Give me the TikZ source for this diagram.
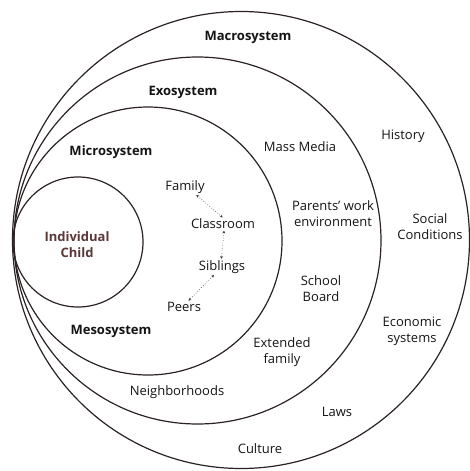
\documentclass[tikz,border=0pt]{standalone}
\usepackage{fontspec}
\setmainfont{Open Sans}
\usetikzlibrary{arrows.meta}
\definecolor{ring}{HTML}{2B2222}
\definecolor{ink}{HTML}{141414}
\definecolor{childcol}{HTML}{5A3838}
\begin{document}
\begin{tikzpicture}[x=1pt,y=-1pt,
  ringline/.style={draw=ring,line width=1.2pt},
  lbl/.style={text=ink,font=\fontsize{13}{16}\selectfont,align=center,inner sep=1pt},
  title/.style={lbl,font=\fontsize{13}{16}\selectfont\bfseries},
  link/.style={draw=gray!40!black,line width=0.6pt,dotted,{Stealth[length=2.8pt,width=2.8pt]}-{Stealth[length=2.8pt,width=2.8pt]},shorten <=0.5pt,shorten >=0.5pt}]
\useasboundingbox (0,0) rectangle (469,471);
% nested system rings, all touching on the left
\draw[ringline] (241,240) circle[radius=228.5pt];
\draw[ringline] (197.5,240.5) circle[radius=183.5pt];
\draw[ringline] (148,241) circle[radius=134pt];
\draw[ringline] (78,242) circle[radius=65pt];
% system names
\node[title] (macro) at (248,37) {Macrosystem};
\node[title] (exo) at (183,92) {Exosystem};
\node[title] (micro) at (111,152) {Microsystem};
\node[title] (meso) at (111,331) {Mesosystem};
\node[title,text=childcol] (child) at (77,245) {Individual\\Child};
% microsystem settings
\node[lbl] (fam) at (185,187) {Family};
\node[lbl] (cls) at (223,224) {Classroom};
\node[lbl] (sib) at (222,267) {Siblings};
\node[lbl] (peer) at (184,307) {Peers};
\draw[link] (fam.-35) -- (cls.north);
\draw[link] (cls.-80) -- (sib.95);
\draw[link] (sib.-135) -- (peer.55);
% exosystem settings
\node[lbl] (media) at (300,147) {Mass Media};
\node[lbl] (work) at (333,214) {Parents’ work\\environment};
\node[lbl] (board) at (321,289) {School\\Board};
\node[lbl] (ext) at (282,352) {Extended\\family};
\node[lbl] (hood) at (177,392) {Neighborhoods};
% macrosystem settings
\node[lbl] (hist) at (403,136) {History};
\node[lbl] (soc) at (430,227) {Social\\Conditions};
\node[lbl] (econ) at (412,331) {Economic\\systems};
\node[lbl] (laws) at (337,412) {Laws};
\node[lbl] (cult) at (260,449) {Culture};
\end{tikzpicture}
\end{document}
